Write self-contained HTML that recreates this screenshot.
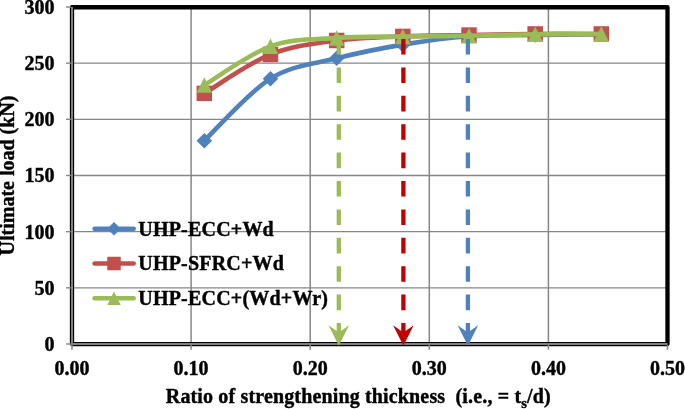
<!DOCTYPE html>
<html><head><meta charset="utf-8"><title>chart</title>
<style>
html,body{margin:0;padding:0;background:#fff}
body{width:685px;height:409px;overflow:hidden}
.ls{letter-spacing:0.2px}
.t{font-family:"Liberation Serif",serif;font-weight:bold;font-size:20px;fill:#000;stroke:#000;stroke-width:0.4px;white-space:pre}
</style></head><body>
<svg width="685" height="409" viewBox="0 0 685 409" style="display:block">
<rect width="685" height="409" fill="#fff"/>
<line x1="191.10" y1="7.0" x2="191.10" y2="344.0" stroke="#868686" stroke-width="1.5"/>
<line x1="310.20" y1="7.0" x2="310.20" y2="344.0" stroke="#868686" stroke-width="1.5"/>
<line x1="429.30" y1="7.0" x2="429.30" y2="344.0" stroke="#868686" stroke-width="1.5"/>
<line x1="548.40" y1="7.0" x2="548.40" y2="344.0" stroke="#868686" stroke-width="1.5"/>
<line x1="667.50" y1="7.0" x2="667.50" y2="344.0" stroke="#868686" stroke-width="1.5"/>
<line x1="72.0" y1="7.00" x2="667.5" y2="7.00" stroke="#868686" stroke-width="1.4"/>
<line x1="72.0" y1="63.17" x2="667.5" y2="63.17" stroke="#868686" stroke-width="1.4"/>
<line x1="72.0" y1="119.33" x2="667.5" y2="119.33" stroke="#868686" stroke-width="1.4"/>
<line x1="72.0" y1="175.50" x2="667.5" y2="175.50" stroke="#868686" stroke-width="1.4"/>
<line x1="72.0" y1="231.67" x2="667.5" y2="231.67" stroke="#868686" stroke-width="1.4"/>
<line x1="72.0" y1="287.83" x2="667.5" y2="287.83" stroke="#868686" stroke-width="1.4"/>
<rect x="72.0" y="7.25" width="595.5" height="336.85" fill="none" stroke="#000" stroke-width="4.3" stroke-linejoin="round"/>
<path d="M72.0,7.0V344.0H667.5" fill="none" stroke="#808080" stroke-width="2"/>
<line x1="66.0" y1="7.00" x2="71.0" y2="7.00" stroke="#868686" stroke-width="1.4"/>
<line x1="66.0" y1="63.17" x2="71.0" y2="63.17" stroke="#868686" stroke-width="1.4"/>
<line x1="66.0" y1="119.33" x2="71.0" y2="119.33" stroke="#868686" stroke-width="1.4"/>
<line x1="66.0" y1="175.50" x2="71.0" y2="175.50" stroke="#868686" stroke-width="1.4"/>
<line x1="66.0" y1="231.67" x2="71.0" y2="231.67" stroke="#868686" stroke-width="1.4"/>
<line x1="66.0" y1="287.83" x2="71.0" y2="287.83" stroke="#868686" stroke-width="1.4"/>
<line x1="66.0" y1="344.00" x2="71.0" y2="344.00" stroke="#868686" stroke-width="1.4"/>
<line x1="72.00" y1="345.0" x2="72.00" y2="349.7" stroke="#868686" stroke-width="1.5"/>
<line x1="191.10" y1="345.0" x2="191.10" y2="349.7" stroke="#868686" stroke-width="1.5"/>
<line x1="310.20" y1="345.0" x2="310.20" y2="349.7" stroke="#868686" stroke-width="1.5"/>
<line x1="429.30" y1="345.0" x2="429.30" y2="349.7" stroke="#868686" stroke-width="1.5"/>
<line x1="548.40" y1="345.0" x2="548.40" y2="349.7" stroke="#868686" stroke-width="1.5"/>
<line x1="667.50" y1="345.0" x2="667.50" y2="349.7" stroke="#868686" stroke-width="1.5"/>
<path d="M204.33,140.68C215.36,130.34 248.44,92.39 270.50,78.67C292.56,64.95 314.61,64.01 336.67,58.34C358.72,52.66 380.78,48.32 402.83,44.63C424.89,40.94 446.94,37.82 469.00,36.21C491.06,34.60 513.11,35.31 535.17,34.97C557.22,34.63 590.31,34.32 601.33,34.18" fill="none" stroke="#4F81BD" stroke-width="4.6" stroke-linecap="round" stroke-linejoin="round"/>
<path d="M204.33,132.93L212.08,140.68L204.33,148.43L196.58,140.68Z" fill="#4F81BD"/>
<path d="M270.50,70.92L278.25,78.67L270.50,86.42L262.75,78.67Z" fill="#4F81BD"/>
<path d="M336.67,50.59L344.42,58.34L336.67,66.09L328.92,58.34Z" fill="#4F81BD"/>
<path d="M402.83,36.88L410.58,44.63L402.83,52.38L395.08,44.63Z" fill="#4F81BD"/>
<path d="M469.00,28.46L476.75,36.21L469.00,43.96L461.25,36.21Z" fill="#4F81BD"/>
<path d="M535.17,27.22L542.92,34.97L535.17,42.72L527.42,34.97Z" fill="#4F81BD"/>
<path d="M601.33,26.43L609.08,34.18L601.33,41.93L593.58,34.18Z" fill="#4F81BD"/>
<path d="M204.33,93.38C215.36,86.89 248.44,63.22 270.50,54.40C292.56,45.59 314.61,43.47 336.67,40.48C358.72,37.48 380.78,37.33 402.83,36.43C424.89,35.53 446.94,35.50 469.00,35.08C491.06,34.67 513.11,34.15 535.17,33.96C557.22,33.77 590.31,33.96 601.33,33.96" fill="none" stroke="#C0504D" stroke-width="4.6" stroke-linecap="round" stroke-linejoin="round"/>
<rect x="196.58" y="85.63" width="15.5" height="15.5" fill="#C0504D"/>
<rect x="262.75" y="46.65" width="15.5" height="15.5" fill="#C0504D"/>
<rect x="328.92" y="32.73" width="15.5" height="15.5" fill="#C0504D"/>
<rect x="395.08" y="28.68" width="15.5" height="15.5" fill="#C0504D"/>
<rect x="461.25" y="27.33" width="15.5" height="15.5" fill="#C0504D"/>
<rect x="527.42" y="26.21" width="15.5" height="15.5" fill="#C0504D"/>
<rect x="593.58" y="26.21" width="15.5" height="15.5" fill="#C0504D"/>
<path d="M204.33,85.07C215.36,78.61 248.44,54.18 270.50,46.32C292.56,38.45 314.61,39.54 336.67,37.89C358.72,36.24 380.78,36.79 402.83,36.43C424.89,36.08 446.94,36.11 469.00,35.76C491.06,35.40 513.11,34.60 535.17,34.30C557.22,34.00 590.31,34.02 601.33,33.96" fill="none" stroke="#9BBB59" stroke-width="4.6" stroke-linecap="round" stroke-linejoin="round"/>
<path d="M204.33,77.32L212.08,92.82L196.58,92.82Z" fill="#9BBB59"/>
<path d="M270.50,38.57L278.25,54.07L262.75,54.07Z" fill="#9BBB59"/>
<path d="M336.67,30.14L344.42,45.64L328.92,45.64Z" fill="#9BBB59"/>
<path d="M402.83,28.68L410.58,44.18L395.08,44.18Z" fill="#9BBB59"/>
<path d="M469.00,28.01L476.75,43.51L461.25,43.51Z" fill="#9BBB59"/>
<path d="M535.17,26.55L542.92,42.05L527.42,42.05Z" fill="#9BBB59"/>
<path d="M601.33,26.21L609.08,41.71L593.58,41.71Z" fill="#9BBB59"/>
<line x1="338.8" y1="39.0" x2="338.8" y2="333" stroke="#9BBB59" stroke-width="4.3" stroke-dasharray="15.6 12.8"/><path d="M338.8,345.8L328.5,325.2L338.8,332.6L349.1,325.2Z" fill="#9BBB59"/>
<line x1="403.4" y1="39.0" x2="403.4" y2="333" stroke="#C00000" stroke-width="4.3" stroke-dasharray="15.6 12.8"/><path d="M403.4,345.8L393.09999999999997,325.2L403.4,332.6L413.7,325.2Z" fill="#C00000"/>
<line x1="467.9" y1="39.0" x2="467.9" y2="333" stroke="#4F81BD" stroke-width="4.3" stroke-dasharray="15.6 12.8"/><path d="M467.9,345.8L457.59999999999997,325.2L467.9,332.6L478.2,325.2Z" fill="#4F81BD"/>
<line x1="94.6" y1="228.70" x2="133.7" y2="228.70" stroke="#4F81BD" stroke-width="4.6" stroke-linecap="round"/>
<path d="M114.00,221.95L120.75,228.70L114.00,235.45L107.25,228.70Z" fill="#4F81BD"/>
<text class="t ls" x="138.3" y="235.70">UHP-ECC+Wd</text>
<line x1="94.6" y1="263.50" x2="133.7" y2="263.50" stroke="#C0504D" stroke-width="4.6" stroke-linecap="round"/>
<rect x="107.25" y="256.75" width="13.5" height="13.5" fill="#C0504D"/>
<text class="t ls" x="138.3" y="270.20">UHP-SFRC+Wd</text>
<line x1="94.6" y1="298.30" x2="133.7" y2="298.30" stroke="#9BBB59" stroke-width="4.6" stroke-linecap="round"/>
<path d="M114.00,291.55L120.75,305.05L107.25,305.05Z" fill="#9BBB59"/>
<text class="t ls" x="138.3" y="305.00">UHP-ECC+(Wd+Wr)</text>
<text class="t" x="54.5" y="13.90" text-anchor="end">300</text>
<text class="t" x="54.5" y="70.07" text-anchor="end">250</text>
<text class="t" x="54.5" y="126.23" text-anchor="end">200</text>
<text class="t" x="54.5" y="182.40" text-anchor="end">150</text>
<text class="t" x="54.5" y="238.57" text-anchor="end">100</text>
<text class="t" x="54.5" y="294.73" text-anchor="end">50</text>
<text class="t" x="54.5" y="350.90" text-anchor="end">0</text>
<text class="t" x="72.00" y="375" text-anchor="middle">0.00</text>
<text class="t" x="191.10" y="375" text-anchor="middle">0.10</text>
<text class="t" x="310.20" y="375" text-anchor="middle">0.20</text>
<text class="t" x="429.30" y="375" text-anchor="middle">0.30</text>
<text class="t" x="548.40" y="375" text-anchor="middle">0.40</text>
<text class="t" x="667.50" y="375" text-anchor="middle">0.50</text>
<text class="t" style="letter-spacing:0.15px" x="165.8" y="403.4" xml:space="preserve">Ratio of strengthening thickness  (i.e., = t<tspan font-size="14.5" dy="5">s</tspan><tspan dy="-5">/d)</tspan></text>
<text class="t" transform="translate(14.3,255.5) rotate(-90)">Ultimate load (kN)</text>
</svg>
</body></html>
